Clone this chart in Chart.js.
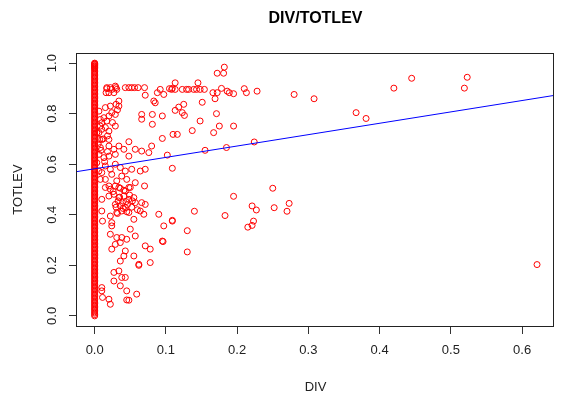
<!DOCTYPE html>
<html>
<head>
<meta charset="utf-8">
<script src="https://cdn.jsdelivr.net/npm/chart.js@4.4.0/dist/chart.umd.min.js"></script>
<style>
  html, body { margin: 0; padding: 0; background: #fff; }
  #wrap { width: 561px; height: 398px; }
</style>
</head>
<body>
<div id="wrap"><canvas id="myChart" width="561" height="398"></canvas></div>
<script>
// DIV / TOTLEV scatter
const divVals = [
  0.182,0.172,0.181,0.113,0.145,0.108,0.113,0.123,0.129,0.132,0.139,0.143,0.148,0.154,
  0.178,0.166,0.172,0.186,0.189,0.195,0.210,0.213,0.228,0.280,0.169,0.151,
  0.125,0.118,0.113,0.123,0.126,0.171,0.148,0.175,0.195,0.137,0.167,0.110,0.116,
  0.155,0.185,0.224,0.109,0.250,0.195,0.273,0.221,0.227,0.252,0.270,0.140,
  0.183,0.109,0.223,0.221,0.215,0.130,0.130,0.367,0.381,0.420,0.445,0.523,0.519,0.621,0.308,
  0.017,0.022,0.030,0.043,0.048,0.052,0.056,0.061,0.070,0.020,0.071,0.088,0.092,0.097,0.105,0.109,0.083,0.085,
  0.034,0.030,0.034,0.022,0.015,0.024,0.029,0.020,0.013,0.017,0.010,0.008,0.015,0.010,0.006,0.029,0.020,
  0.066,0.066,0.081,0.095,0.081,0.010,0.020,0.095,0.048,0.020,0.034,0.027,0.041,0.057,0.066,0.076,0.029,0.020,0.013,0.048,0.080,0.102,
  0.015,0.022,0.029,0.036,0.043,0.052,0.064,0.071,0.010,0.024,0.038,0.015,0.031,0.045,0.057,0.020,0.034,0.048,
  0.015,0.022,0.029,0.036,0.043,0.050,0.020,0.027,0.034,0.041,0.048,0.055,0.010,0.029,0.036,0.043,0.038,
  0.031,0.048,0.057,0.066,0.071,0.064,0.069,0.090,0.109,0.010,0.011,0.022,0.024,0.024,0.055,0.097,0.070,
  0.022,0.031,0.038,0.045,0.057,0.050,0.029,0.036,0.024,0.043,0.041,0.036,0.055,0.062,0.071,0.078,
  0.078,0.095,0.027,0.034,0.027,0.038,0.043,0.036,0.045,0.059,0.048,0.010,0.010,0.020,0.022,0.011,
  0.045,0.062,0.096,0.006,0.008,0.003,0.007,0.008,0.006,0.003,0.006,0.008,0.017,0.024,0.029,0.031,0.016,0.027,
  0.033,0.039,0.044,0.030,0.040,0.046,0.052,0.035,0.049,0.026,0.041,0.053,0.060,0.032,0.045,
  0.012,0.018,0.025,0.032,0.005,0.009,0.014,0.018
];
const levVals = [
  0.984,0.960,0.960,0.922,0.922,0.896,0.896,0.896,0.896,0.896,0.896,0.896,0.896,0.896,
  0.900,0.883,0.883,0.889,0.883,0.879,0.899,0.883,0.889,0.876,0.859,0.845,
  0.837,0.826,0.813,0.804,0.793,0.800,0.771,0.751,0.751,0.733,0.725,0.718,0.718,
  0.655,0.666,0.688,0.584,0.505,0.473,0.445,0.435,0.419,0.428,0.414,0.414,
  0.397,0.375,0.375,0.358,0.351,0.337,0.253,0.804,0.781,0.901,0.940,0.944,0.901,0.203,0.859,
  0.903,0.903,0.903,0.903,0.903,0.903,0.903,0.903,0.903,0.883,0.873,0.883,0.896,0.876,0.899,0.900,0.850,0.843,
  0.850,0.837,0.830,0.830,0.824,0.804,0.797,0.791,0.784,0.771,0.764,0.751,0.745,0.738,0.725,0.751,0.731,
  0.797,0.778,0.797,0.791,0.758,0.698,0.698,0.702,0.689,0.672,0.672,0.659,0.659,0.659,0.652,0.646,0.639,0.632,0.626,0.632,0.672,0.636,
  0.593,0.580,0.600,0.587,0.573,0.580,0.573,0.580,0.567,0.560,0.553,0.540,0.534,0.540,0.527,0.514,0.508,0.508,
  0.508,0.501,0.514,0.505,0.494,0.508,0.474,0.481,0.468,0.474,0.461,0.468,0.461,0.441,0.435,0.428,0.415,
  0.409,0.409,0.448,0.448,0.441,0.415,0.402,0.402,0.378,0.415,0.375,0.395,0.369,0.356,0.382,0.356,0.514,
  0.323,0.310,0.310,0.303,0.316,0.343,0.283,0.290,0.264,0.257,0.237,0.217,0.237,0.204,0.277,0.264,
  0.211,0.296,0.172,0.178,0.138,0.152,0.152,0.119,0.099,0.086,0.062,0.112,0.099,0.066,0.046,0.073,
  0.063,0.200,0.294,0.810,0.777,0.725,0.698,0.666,0.639,0.606,0.573,0.540,0.899,0.896,0.909,0.896,0.883,0.883,
  0.455,0.448,0.452,0.430,0.425,0.440,0.430,0.470,0.478,0.492,0.497,0.455,0.420,0.405,0.412,
  0.700,0.712,0.765,0.815,0.680,0.655,0.610,0.650
];
// TOTLEV of the firms with DIV = 0 (the solid column)
const zeroDivLev = [
  0.000,0.005,0.011,0.016,0.022,0.027,0.032,0.038,0.043,0.049,0.054,0.059,0.065,0.070,0.076,0.081,0.086,0.092,0.097,0.103,
  0.108,0.113,0.119,0.124,0.130,0.135,0.140,0.146,0.151,0.157,0.162,0.167,0.173,0.178,0.184,0.189,0.194,0.200,0.205,0.211,
  0.216,0.221,0.227,0.232,0.238,0.243,0.248,0.254,0.259,0.265,0.270,0.275,0.281,0.286,0.292,0.297,0.302,0.308,0.313,0.319,
  0.324,0.329,0.335,0.340,0.346,0.351,0.356,0.362,0.367,0.373,0.378,0.383,0.389,0.394,0.400,0.405,0.410,0.416,0.421,0.427,
  0.432,0.437,0.443,0.448,0.454,0.459,0.464,0.470,0.475,0.481,0.486,0.491,0.497,0.502,0.508,0.513,0.518,0.524,0.529,0.535,
  0.540,0.545,0.551,0.556,0.562,0.567,0.572,0.578,0.583,0.589,0.594,0.599,0.605,0.610,0.616,0.621,0.626,0.632,0.637,0.643,
  0.648,0.653,0.659,0.664,0.670,0.675,0.680,0.686,0.691,0.697,0.702,0.707,0.713,0.718,0.724,0.729,0.734,0.740,0.745,0.751,
  0.756,0.761,0.767,0.772,0.778,0.783,0.788,0.794,0.799,0.805,0.810,0.815,0.821,0.826,0.832,0.837,0.842,0.848,0.853,0.859,
  0.864,0.869,0.875,0.880,0.886,0.891,0.896,0.902,0.907,0.913,0.918,0.923,0.929,0.934,0.940,0.945,0.950,0.956,0.961,0.967,
  0.972,0.977,0.983,0.988,0.994,1.000,0.998,0.996,0.990,0.985,0.980
];

// lm(TOTLEV ~ DIV), drawn across the whole plot like abline()
const fitIntercept = 0.582;
const fitSlope = 0.45;

const xRange = [-0.0248, 0.6448];
const yRange = [-0.04, 1.04];
const xTicks = [0, 0.1, 0.2, 0.3, 0.4, 0.5, 0.6];
const yTicks = [0, 0.2, 0.4, 0.6, 0.8, 1.0];

const FONT = "'Liberation Sans', Arial, sans-serif";

const points = divVals.map((d, i) => ({ x: d, y: levVals[i] }));
zeroDivLev.forEach(v => points.push({ x: 0, y: v }));
const fitLine = xRange.map(x => ({ x: x, y: fitIntercept + fitSlope * x }));

// box, y tick labels and the titles (base R look)
const rLook = {
  id: 'rLook',
  afterDraw(chart) {
    const c = chart.ctx;
    const a = chart.chartArea;
    const ys = chart.scales.y;
    c.save();
    c.strokeStyle = '#222';
    c.lineWidth = 1;
    c.strokeRect(Math.round(a.left) - 0.5, Math.round(a.top) + 0.5,
      Math.round(a.right - a.left), Math.round(a.bottom - a.top));

    c.fillStyle = '#222';
    c.font = '13px ' + FONT;
    c.textAlign = 'center';
    c.textBaseline = 'middle';
    yTicks.forEach(v => {
      c.save();
      c.translate(52, ys.getPixelForValue(v));
      c.rotate(-Math.PI / 2);
      c.fillText(v.toFixed(1), 0, 0);
      c.restore();
    });

    const cx = (a.left + a.right) / 2;
    c.fillStyle = '#000';
    c.font = 'bold 16px ' + FONT;
    c.fillText('DIV/TOTLEV', cx, 19);

    c.fillStyle = '#222';
    c.font = '13px ' + FONT;
    c.fillText('DIV', cx, 387);
    c.save();
    c.translate(18, (a.top + a.bottom) / 2);
    c.rotate(-Math.PI / 2);
    c.fillText('TOTLEV', 0, 0);
    c.restore();
    c.restore();
  }
};

new Chart(document.getElementById('myChart').getContext('2d'), {
  data: {
    datasets: [
      {
        type: 'line',
        data: fitLine,
        borderColor: '#0000ff',
        borderWidth: 1,
        pointRadius: 0,
        fill: false,
        order: 0
      },
      {
        type: 'scatter',
        data: points,
        pointStyle: 'circle',
        pointRadius: 3,
        borderWidth: 1,
        borderColor: '#ff0000',
        backgroundColor: 'rgba(0,0,0,0)',
        order: 1
      }
    ]
  },
  options: {
    responsive: false,
    animation: false,
    devicePixelRatio: 1,
    events: [],
    layout: { padding: { top: 53, right: 7, left: 0, bottom: 0 } },
    plugins: { legend: { display: false }, tooltip: { enabled: false }, title: { display: false } },
    scales: {
      x: {
        type: 'linear',
        min: xRange[0],
        max: xRange[1],
        afterBuildTicks: s => { s.ticks = xTicks.map(v => ({ value: v })); },
        afterFit: s => { s.height = 72; },
        border: { display: false },
        grid: { drawOnChartArea: false, drawTicks: true, tickLength: 8, color: '#333' },
        ticks: {
          callback: v => v.toFixed(1),
          font: { family: FONT, size: 13 },
          color: '#222',
          padding: 9,
          maxRotation: 0,
          autoSkip: false
        }
      },
      y: {
        type: 'linear',
        min: yRange[0],
        max: yRange[1],
        afterBuildTicks: s => { s.ticks = yTicks.map(v => ({ value: v })); },
        afterFit: s => { s.width = 77; },
        border: { display: false },
        grid: { drawOnChartArea: false, drawTicks: true, tickLength: 8, color: '#333' },
        ticks: { display: false }
      }
    }
  },
  plugins: [rLook]
});
</script>
</body>
</html>
